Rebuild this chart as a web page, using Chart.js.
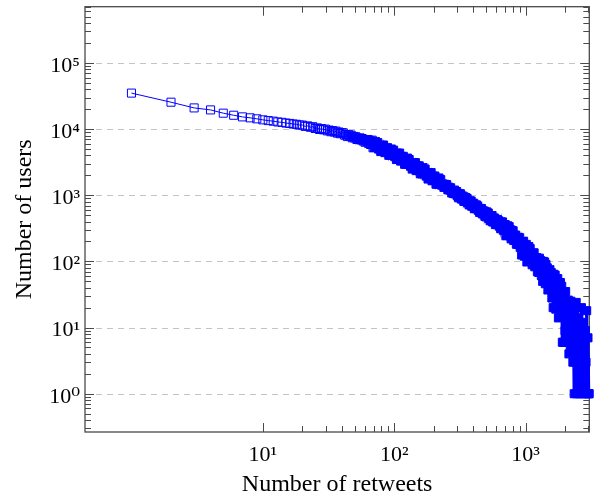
<!DOCTYPE html>
<html><head><meta charset="utf-8">
<script src="https://cdn.jsdelivr.net/npm/chart.js@4.4.1/dist/chart.umd.min.js"></script>
<style>html,body{margin:0;padding:0;background:#fff;}canvas{display:block;}</style>
</head><body>
<canvas id="c" width="596" height="497"></canvas>
<script>
// ---- data (number of retweets -> number of users) ----
const retweets = [
  1,2,3,4,5,6,7,8,9,10,11,12,13,14,15,16,17,18,19,20,21,22,23,24,25,26,27,28,29,30,31,32,33,34,35,36,37,38,39,40,
  41,42,43,44,45,46,47,48,49,50,51,52,53,54,55,56,57,
  58,59,60,61,62,63,64,65,66,68,69,70,71,72,74,75,76,78,79,80,82,83,85,86,88,89,91,92,94,95,97,99,101,102,104,106,
  108,110,112,114,115,117,120,122,124,126,128,130,133,135,137,140,142,145,147,150,152,155,158,160,163,166,169,172,175,178,
  181,184,187,191,194,197,201,204,208,211,215,219,223,226,230,234,239,243,247,251,256,260,265,269,274,279,283,288,293,299,
  302,305,309,313,316,320,324,327,331,335,339,343,347,351,355,359,363,367,372,376,
  380,385,389,394,398,403,407,412,417,422,427,432,437,442,447,452,457,462,468,473,
  479,484,490,495,501,507,513,519,525,531,537,543,550,556,562,569,575,582,589,596,
  603,610,617,624,631,638,646,653,661,668,676,684,692,700,708,716,724,733,741,750,
  759,767,776,785,794,804,813,822,832,841,851,861,871,881,891,902,912,923,933,944,
  955,966,977,989,1000,1012,1023,1035,1047,1059,1072,1084,1096,1109,1122,1135,1148,1161,1175,1189,
  1202,1216,1230,1245,1259,1274,1288,1303,1318,1334,1349,1365,1380,1396,1413,1429,1445,1462,1479,1496,
  1514,1531,1549,1567,1585,1603,1622,1641,1660,1679,1698,1718,1738,1758,1778,1799,1820,1841,1862,1884,
  1905,1928,1950,1972,1995,2018,2042,2065,2089,2113,2138,2163,2188,2213,2239,2265,2291,2317,2344,2371,
  2399,2427,2455,2483,2512,2541,2570,2600,2630,2661,2692,2723,2754,2786,2818,2851,2884,2917,2951,2985,
  3020,3048
];
const users = [
  35000,25500,20900,19500,17400,16200,15300,14800,14300,13800,13450,13180,12820,12650,12330,12190,11930,11820,11540,11490,
  10990,11180,10660,10865,10220,10425,9870,10180,9740,10000,9400,9660,9125,9480,9010,9320,8680,9030,8505,8805,
  8776,8074,8297,7708,8224,7786,8122,7384,7742,7337,7662,6972,7249,6911,7374,6886,7201,
  6614,6894,6332,6910,6494,6966,6052,6742,5856,6799,5217,5974,5261,6500,5381,6248,4996,5565,4575,5692,
  4944,5741,4405,5186,4504,5230,4012,4595,4047,5000,4139,4806,3826,4262,3467,4329,3729,4335,3284,3872,
  3335,3877,2938,3366,2942,3646,2988,3473,2747,3059,2489,3108,2677,3112,2357,2780,2394,2784,2109,2415,
  2103,2612,2130,2478,1950,2172,1759,2201,1889,2198,1655,1954,1677,1952,1470,1686,1468,1824,1487,1730,
  1419,1486,1316,1464,1337,1449,1209,1324,1195,1297,1082,1164,1060,1197,1048,1138,
  980,1048,915,1054,955,1050,876,972,881,969,808,881,805,923,810,891,764,817,714,822,
  745,819,683,758,687,755,629,684,625,716,627,689,590,631,550,633,573,629,524,581,
  526,578,481,524,471,560,477,539,446,486,412,492,437,493,394,450,399,451,360,402,
  361,429,365,412,341,390,313,395,330,395,296,360,299,360,244,330,247,345,265,335,
  243,300,219,295,239,290,207,249,210,250,182,212,181,232,182,228,163,192,125,199,
  161,202,120,173,138,181,98,143,114,168,119,156,104,127,89,133,103,135,83,112,
  87,114,70,90,68,112,72,103,61,95,50,100,60,98,46,90,48,80,37,70,
  38,75,40,68,28,62,20,64,30,62,19,52,22,55,14,38,15,48,18,42,
  6,23,6,27,9,35,6,22,10,26,4,14,5,25,5,22,3,13,1,16,
  3,24,1,12,2,14,1,7,2,20,1,12,2,7,1,9,3,18,1,7,
  1,1
];
const xTickValues = [10, 100, 1000];
const yTickValues = [1, 10, 100, 1000, 10000, 100000];
const xAxisTitle = 'Number of retweets';
const yAxisTitle = 'Number of users';

const X_MIN = 0.443, X_MAX = 3055, Y_MIN = 0.264, Y_MAX = 708000;
// beyond these counts, thousands of overlapping hollow squares merge into a solid band
const DENSE_FROM = 45, SOLID_FROM = 70, TAIL_FROM = 1400;
const FONT = "'Liberation Serif', 'DejaVu Serif', serif";
const SUP = {'0':'\u2070','1':'\u00B9','2':'\u00B2','3':'\u00B3','4':'\u2074','5':'\u2075','6':'\u2076','7':'\u2077','8':'\u2078','9':'\u2079','-':'\u207B'};
function powLabel(v) {
  const e = Math.round(Math.log10(v));
  return '10' + String(e).split('').map(c => SUP[c]).join('');
}
function minorTicks(decades, lo, hi) {
  const out = [];
  decades.forEach(d => { for (let m = 2; m <= 9; m++) { const v = m * d; if (v >= lo && v <= hi) out.push(v); } });
  return out;
}
const xMinor = minorTicks([10, 100, 1000], X_MIN, X_MAX);
const yMinor = minorTicks([0.1, 1, 10, 100, 1000, 10000, 100000], Y_MIN, Y_MAX);

const axisFrame = {
  id: 'axisFrame',
  beforeDatasetsDraw(chart) {
    const {ctx, chartArea: a, scales: {x, y}} = chart;
    ctx.save();
    ctx.lineWidth = 1;
    ctx.strokeStyle = '#c4c4c4';
    ctx.setLineDash([6, 5]);
    yTickValues.forEach(v => {
      const py = Math.round(y.getPixelForValue(v)) + 0.5;
      ctx.beginPath(); ctx.moveTo(a.left, py); ctx.lineTo(a.right, py); ctx.stroke();
    });
    ctx.setLineDash([]);
    ctx.strokeStyle = '#4a4a4a';
    ctx.lineWidth = 1;
    const seg = (x1, y1, x2, y2) => { ctx.beginPath(); ctx.moveTo(x1, y1); ctx.lineTo(x2, y2); ctx.stroke(); };
    const MAJ = 9, MIN = 6;
    const xt = (v, len) => { const px = Math.round(x.getPixelForValue(v)) + 0.5; seg(px, a.bottom, px, a.bottom - len); seg(px, a.top, px, a.top + len); };
    const yt = (v, len) => { const py = Math.round(y.getPixelForValue(v)) + 0.5; seg(a.left, py, a.left + len, py); seg(a.right, py, a.right - len, py); };
    xTickValues.forEach(v => xt(v, MAJ));
    xMinor.forEach(v => xt(v, MIN));
    yTickValues.forEach(v => yt(v, MAJ));
    yMinor.forEach(v => yt(v, MIN));
    ctx.lineWidth = 1.3;
    ctx.strokeRect(a.left, a.top, a.right - a.left, a.bottom - a.top);
    ctx.restore();
  }
};

function markFill(c) {
  const v = c.parsed ? c.parsed.x : 0;
  if (v >= SOLID_FROM) return '#0000ff';
  if (v >= DENSE_FROM) return 'rgba(0,0,255,0.45)';
  return 'rgba(0,0,0,0)';
}
function segWidth(c) {
  const v = c.p0.parsed.x;
  if (v >= TAIL_FROM) return 3.2;
  if (v >= DENSE_FROM) return 2;
  return 1;
}

new Chart(document.getElementById('c'), {
  type: 'scatter',
  data: {
    datasets: [{
      data: retweets.map((r, i) => ({x: r, y: users[i]})),
      showLine: true,
      borderColor: '#0000ff',
      borderWidth: 1,
      segment: {borderWidth: segWidth},
      tension: 0,
      pointStyle: 'rect',
      pointRadius: 5.7,
      pointBorderWidth: 1,
      pointBorderColor: '#0000ff',
      pointBackgroundColor: markFill,
      clip: false
    }]
  },
  options: {
    responsive: false,
    animation: false,
    devicePixelRatio: 1,
    events: [],
    layout: {padding: {top: 5, right: 1, left: 0, bottom: 0}},
    plugins: {legend: {display: false}, tooltip: {enabled: false}},
    scales: {
      x: {
        type: 'logarithmic', position: 'bottom', min: X_MIN, max: X_MAX,
        afterBuildTicks: s => { s.ticks = xTickValues.map(v => ({value: v})); },
        afterFit: s => { s.height = 65; s.paddingLeft = 0; s.paddingRight = 0; },
        grid: {display: false, drawTicks: false},
        border: {display: false},
        ticks: {callback: v => powLabel(v), color: '#000', font: {family: FONT, size: 22}, padding: 10, maxRotation: 0, autoSkip: false},
        title: {display: true, text: xAxisTitle, color: '#000', font: {family: FONT, size: 24}, padding: {top: 0, bottom: -2}}
      },
      y: {
        type: 'logarithmic', position: 'left', min: Y_MIN, max: Y_MAX,
        afterBuildTicks: s => { s.ticks = yTickValues.map(v => ({value: v})); },
        afterFit: s => { s.width = 85; s.paddingTop = 0; s.paddingBottom = 0; },
        grid: {display: false, drawTicks: false},
        border: {display: false},
        ticks: {callback: v => powLabel(v), color: '#000', font: {family: FONT, size: 22}, padding: 5, labelOffset: 3, autoSkip: false},
        title: {display: true, text: yAxisTitle, color: '#000', font: {family: FONT, size: 24}, padding: {top: 10, bottom: 0}}
      }
    }
  },
  plugins: [axisFrame]
});
</script>
</body></html>
